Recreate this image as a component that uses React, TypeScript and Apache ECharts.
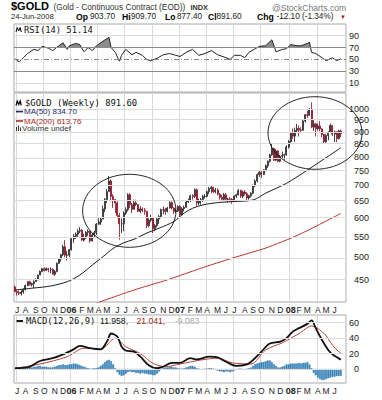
import React, { useEffect, useRef } from "react";
import * as echarts from "echarts";

// ---------- data ----------
const firstWeek = "2005-06-27"; // Monday of first weekly bar
const weekSlots = 159; // 157 bars + 2 empty slots of right padding

const opens = [
  435, 426, 424, 422, 425, 430, 438, 446, 440, 442, 446, 450, 460, 468, 474, 470, 474, 472, 472, 462, 468, 486, 496, 506, 525, 505, 505,
  518, 545, 552, 557, 565, 567, 542, 548, 562, 565, 540, 555, 561, 584, 590, 598, 627, 655, 680, 715, 665, 655, 645, 608, 585, 585, 615,
  625, 670, 640, 626, 645, 640, 620, 627, 623, 620, 580, 595, 600, 572, 580, 598, 605, 625, 625, 620, 630, 646, 630, 620, 621,
  635, 610, 628, 632, 648, 652, 667, 665, 686, 645, 652, 655, 665, 665, 680, 690, 694, 680, 685, 672, 662, 656, 670, 656, 657, 656,
  650, 666, 670, 684, 666, 679, 673, 660, 667, 675, 699, 715, 736, 745, 737, 753, 768, 784, 808, 832, 788, 823, 784, 803, 805, 808,
  838, 860, 895, 882, 906, 914, 908, 906, 947, 975, 972, 1001, 920, 934, 913, 925, 912, 889, 859, 884, 898, 927, 890, 900, 872, 903.7,
];
const closes = [
  426, 424, 422, 425, 430, 438, 446, 440, 442, 446, 450, 460, 468, 474, 470, 474, 472, 472, 462, 468, 486, 496, 506, 525, 505, 505, 518,
  545, 552, 557, 565, 567, 542, 548, 562, 565, 540, 555, 561, 584, 590, 598, 627, 655, 680, 715, 665, 655, 645, 608, 585, 585, 615, 625,
  670, 640, 626, 645, 640, 620, 627, 623, 620, 580, 595, 600, 572, 580, 598, 605, 625, 625, 620, 630, 646, 630, 620, 621, 635,
  610, 628, 632, 648, 652, 667, 665, 686, 645, 652, 655, 665, 665, 680, 690, 694, 680, 685, 672, 662, 656, 670, 656, 657, 656, 650,
  666, 670, 684, 666, 679, 673, 660, 667, 675, 699, 715, 736, 745, 737, 753, 768, 784, 808, 832, 788, 823, 784, 803, 805, 808, 838,
  860, 895, 882, 906, 914, 908, 906, 947, 975, 972, 1001, 920, 934, 913, 925, 912, 889, 859, 884, 898, 927, 890, 900, 872, 903.7, 891.6,
];
const lows = [
  424, 418, 419, 418, 422, 428, 437, 438, 436, 433, 446, 449, 460, 466, 468, 469, 466, 464, 461, 458, 466, 485, 490, 503, 500, 493, 500,
  516, 535, 545, 550, 560, 540, 538, 545, 553, 535, 538, 550, 555, 582, 582, 598, 618, 645, 680, 650, 630, 615, 600, 543, 560, 565, 610,
  620, 630, 615, 625, 635, 618, 615, 618, 610, 573, 575, 590, 560, 565, 575, 585, 600, 612, 610, 617, 628, 625, 612, 615, 618,
  604, 608, 620, 630, 645, 648, 655, 660, 635, 638, 640, 648, 658, 662, 672, 675, 675, 675, 668, 655, 652, 652, 650, 646, 648, 642,
  648, 660, 668, 660, 660, 668, 650, 655, 662, 672, 695, 710, 728, 725, 735, 748, 760, 780, 805, 785, 785, 780, 780, 792, 788, 805,
  832, 855, 870, 858, 898, 880, 895, 905, 940, 960, 970, 915, 905, 880, 905, 902, 878, 850, 855, 865, 895, 882, 858, 858, 868, 877.4,
];
const highs = [
  438, 428, 428, 428, 432, 440, 447, 448, 444, 449, 453, 461, 470, 476, 477, 477, 476, 477, 475, 471, 488, 498, 508, 530, 542, 515, 520,
  548, 558, 562, 570, 576, 571, 558, 565, 570, 566, 560, 566, 587, 600, 601, 637, 660, 688, 732, 720, 672, 657, 650, 615, 600, 620, 632,
  675, 676, 645, 655, 655, 640, 635, 632, 630, 620, 600, 610, 602, 585, 602, 610, 628, 634, 630, 633, 650, 650, 632, 628, 637,
  638, 632, 637, 652, 658, 670, 672, 690, 690, 658, 660, 670, 672, 683, 695, 698, 695, 692, 690, 675, 670, 676, 676, 660, 663, 660,
  668, 673, 688, 686, 683, 685, 678, 670, 678, 703, 720, 740, 748, 748, 755, 772, 787, 812, 850, 835, 830, 825, 808, 820, 812, 845,
  866, 897, 914, 918, 934, 928, 920, 950, 978, 994, 1005, 1033, 950, 938, 935, 946, 915, 892, 890, 902, 935, 928, 905, 902, 909, 909.7,
];

// moving averages: [week index, value]
const ma50 = [
  [0, 429], [9, 433], [17, 437], [25, 446], [31, 460], [37, 482], [42, 501], [47, 521], [52, 535], [57, 544], [63, 560],
  [69, 573], [76, 591], [81, 615], [85, 629], [90, 639], [97, 646], [104, 649], [114, 654], [120, 675], [130, 707],
  [140, 752], [146, 782], [156, 834.7],
];
const ma200 = [
  [38, 402], [57, 429], [73, 450], [89, 475], [104, 498], [120, 522], [136, 556], [156, 613.76],
];

// RSI(14): [week index, value]
const rsi = [
  [0, 51], [2, 46], [4, 53], [6, 60], [9, 67], [11, 65], [13, 72], [16, 69], [18, 65], [21, 73], [23, 78], [25, 67],
  [26, 73], [29, 77], [31, 75], [33, 63], [35, 70], [37, 65], [39, 73], [41, 78], [44, 85], [45, 87], [46, 70], [48, 62],
  [50, 47], [51, 57], [53, 67], [56, 58], [58, 62], [61, 57], [63, 50], [65, 48], [68, 52], [71, 58], [74, 60], [77, 57],
  [79, 55], [82, 62], [85, 67], [88, 57], [91, 60], [94, 65], [97, 58], [101, 53], [103, 50], [105, 57], [108, 57],
  [110, 53], [112, 62], [115, 68], [117, 72], [120, 73], [123, 83], [125, 63], [128, 67], [130, 68], [132, 75], [135, 73],
  [137, 73], [140, 77], [141, 79], [142, 62], [144, 60], [147, 53], [149, 48], [152, 53], [154, 48], [156, 51.14],
];

// MACD(12,26,9): [week index, value]
const macdLine = [
  [0, 1], [6, 2], [12, 10.4], [18, 14], [23, 19], [28, 25.5], [31, 30], [36, 27], [41, 25.5], [44, 35.5], [46, 46],
  [49, 42], [51, 29], [53, 24], [57, 22.5], [60, 16], [64, 5], [68, 1], [71, 3], [75, 8], [79, 8], [84, 14], [87, 12.5],
  [93, 16], [97, 15], [101, 9.5], [106, 4], [111, 6], [114, 11.7], [118, 22.5], [122, 33], [127, 35.5], [130, 40],
  [133, 48.5], [136, 53], [140, 58.5], [142, 63], [144, 53], [147, 37.6], [150, 24.6], [152, 19], [155, 13.8], [156, 11.958],
];
const signalLine = [
  [0, 1], [12, 6.5], [25, 16], [33, 27], [41, 25.5], [48, 40], [53, 29], [60, 20], [66, 7.4], [72, 3], [79, 6.5],
  [89, 11.7], [97, 14], [104, 8], [113, 6.5], [120, 24.7], [128, 34], [136, 46], [142, 55.7], [148, 46], [152, 31],
  [155, 22.5], [156, 21.041],
];
const macdHist = [
  0, 0, 0, 0, 1, 1, 1, 2, 2,
  3, 3, 4, 4, 3, 3, 3, 2,
  2, 2, 3, 4, 5, 5, 6, 5,
  5, 6, 6, 7, 7, 6, 5, 4,
  3, 2, 1, 0, 0, 1, 1, 2,
  4, 6, 9, 11, 12, 10, 6, 1,
  -4, -7, -9, -8, -6, -4, -3, -4,
  -4, -5, -5, -6, -5, -6, -6, -7,
  -7, -8, -8, -6, -3, -1, 1, 2,
  2, 3, 3, 2, 2, 1, 0, 0,
  1, 2, 3, 4, 4, 3, 1, 0,
  -1, -1, 0, 0, 1, 1, 0, -1,
  -2, -3, -3, -4, -3, -3, -4, -3,
  -2, -1, 0, 0, -1, -1, 0, 1,
  2, 4, 6, 7, 8, 9, 9, 10,
  11, 11, 9, 6, 4, 2, 2, 3,
  4, 6, 6, 7, 7, 7, 7, 8,
  7, 8, 8, 9, 6, 1, -5, -8,
  -11, -13, -14, -14, -13, -12, -11, -10,
  -10, -9, -9, -9.083,
];

const priceTicks = [450, 500, 550, 600, 650, 700, 750, 800, 850, 900, 950, 1000];
const rsiTicks = [10, 30, 50, 70, 90];
const macdTicks = [0, 20, 40, 60];

// ---------- helpers ----------
const FF = '"Liberation Sans", Arial, sans-serif';
const MONO = '"DejaVu Sans Mono", monospace';
const ln = Math.log;

const cats: string[] = [];
{
  const d0 = new Date(firstWeek + "T00:00:00Z").getTime();
  for (let i = 0; i < weekSlots; i++) cats.push(new Date(d0 + i * 7 * 86400000).toISOString().slice(0, 10));
}
const monthOf = (s: string) => Number(s.slice(5, 7));
const isMonthStart = (i: number) => i > 0 && i < closes.length && monthOf(cats[i]) !== monthOf(cats[i - 1]);
const isQuarterStart = (i: number) => isMonthStart(i) && (monthOf(cats[i]) - 1) % 3 === 0;
const monthLabel = (v: string) => {
  const m = monthOf(v);
  return m === 1 ? `{y|${v.slice(2, 4)}}` : "JFMAMJJASOND"[m - 1];
};

function clipAbove(points: number[][], level: number) {
  const out: number[][] = [];
  for (let i = 0; i < points.length; i++) {
    const [x, v] = points[i];
    if (i > 0) {
      const [px, pv] = points[i - 1];
      if ((pv - level) * (v - level) < 0) {
        const t = (level - pv) / (v - pv);
        out.push([px + t * (x - px), level]);
      }
    }
    out.push([x, Math.max(v, level)]);
  }
  return out;
}

function txt(text: string, x: number, y: number, size: number, o: any = {}) {
  return {
    type: "text", x, y, silent: true, z: 100,
    style: {
      text, fontSize: size, fontFamily: o.family || FF, fontWeight: o.bold ? "bold" : "normal",
      fill: o.color || "#000", verticalAlign: "middle", align: o.align || "left",
    },
  };
}

const GRID_L = 14, GRID_W = 332;

export default function App() {
  const ref = useRef<HTMLDivElement>(null);
  useEffect(() => {
    document.body.style.margin = "0";
    const chart = echarts.init(ref.current!, undefined, { renderer: "svg" });

    const catAxis = (gi: number, labels: boolean) => ({
      type: "category", gridIndex: gi, data: cats, boundaryGap: true,
      axisLine: { show: false }, axisTick: { show: false },
      splitLine: { show: true, interval: (i: number) => isQuarterStart(i), lineStyle: { color: "#d9d9d9", width: 1 } },
      axisLabel: labels
        ? {
            show: true, interval: (i: number) => isMonthStart(i), formatter: monthLabel,
            fontSize: 8.5, fontFamily: FF, color: "#222", margin: 3,
            rich: { y: { fontWeight: "bold", fontSize: 9, fontFamily: FF, color: "#222" } },
          }
        : { show: false },
    });
    const valAxis = (gi: number) => ({
      type: "value", gridIndex: gi, min: -0.5, max: weekSlots - 0.5, show: false,
    });
    const yAxis = (gi: number, min: number, max: number, ticks: number[], margin: number, fmt?: any) => ({
      type: "value", gridIndex: gi, position: "right", min, max, scale: true,
      axisLine: { show: false }, axisTick: { show: false }, splitLine: { show: false },
      axisLabel: {
        customValues: ticks, formatter: fmt, fontSize: 9, fontFamily: FF, color: "#222",
        margin, align: "right",
      },
    });
    const gridLines = (xi: number, yi: number, vals: any[]) => ({
      type: "line", xAxisIndex: xi, yAxisIndex: yi, data: [], z: 0, silent: true,
      markLine: { silent: true, symbol: ["none", "none"], label: { show: false }, animation: false, data: vals },
    });
    const light = { color: "#dcdcdc", width: 1, type: "solid" };

    const candles = closes.map((c, i) => [ln(opens[i]), ln(c), ln(lows[i]), ln(highs[i])]);

    const graphic: any[] = [
      txt("$GOLD", 11, 6.2, 11, { bold: true }),
      txt("(Gold - Continuous Contract (EOD))", 53.5, 7, 8.3, { color: "#333" }),
      txt("INDX", 190.5, 7, 7.3, { bold: true, color: "#333" }),
      txt("@StockCharts.com", 272, 7.5, 8.6, { color: "#777" }),
      txt("24-Jun-2008", 11, 16.8, 7.6, { color: "#222" }),
      txt("Op", 76, 16.8, 8.6, { bold: true }),
      txt("903.70", 90, 16.8, 8.2, { color: "#222" }),
      txt("Hi", 122, 16.8, 8.6, { bold: true }),
      txt("909.70", 131, 16.8, 8.2, { color: "#222" }),
      txt("Lo", 165, 16.8, 8.6, { bold: true }),
      txt("877.40", 177, 16.8, 8.2, { color: "#222" }),
      txt("Cl", 208, 16.8, 8.6, { bold: true }),
      txt("891.60", 216.5, 16.8, 8.2, { color: "#222" }),
      txt("Chg", 257, 16.8, 8.6, { bold: true }),
      txt("-12.10 (-1.34%)", 276.5, 16.8, 8.2, { color: "#222" }),
      txt("▼", 340, 17, 6, { color: "#b0102a" }),
      // RSI legend
      { type: "polyline", silent: true, z: 100, shape: { points: [[16, 32], [17.3, 27.5], [18.7, 31], [20.2, 27.5], [21.3, 32]] }, style: { stroke: "#000", lineWidth: 1, fill: "none" } },
      txt("RSI(14) 51.14", 24, 29.8, 8.8, { family: MONO, color: "#111" }),
      // price legend
      { type: "polyline", silent: true, z: 100, shape: { points: [[16, 105.5], [17.3, 101], [18.7, 104.5], [20.2, 101], [21.3, 105.5]] }, style: { stroke: "#000", lineWidth: 1.2, fill: "none" } },
      txt("$GOLD (Weekly) 891.60", 25, 103, 8.9, { family: MONO, color: "#111" }),
      { type: "line", silent: true, z: 100, shape: { x1: 16, y1: 111.6, x2: 23, y2: 111.6 }, style: { stroke: "#1b2a66", lineWidth: 1.6 } },
      txt("MA(50) 834.70", 24, 111.6, 8, { color: "#1b2a66" }),
      { type: "line", silent: true, z: 100, shape: { x1: 16, y1: 121, x2: 23, y2: 121 }, style: { stroke: "#b02a2a", lineWidth: 1.6 } },
      txt("MA(200) 613.76", 24, 121, 8, { color: "#b02a2a" }),
      { type: "rect", silent: true, z: 100, shape: { x: 16, y: 127, width: 1, height: 4 }, style: { fill: "#333" } },
      { type: "rect", silent: true, z: 100, shape: { x: 18, y: 125.5, width: 1, height: 5.5 }, style: { fill: "#333" } },
      { type: "rect", silent: true, z: 100, shape: { x: 20, y: 127.5, width: 1, height: 3.5 }, style: { fill: "#333" } },
      txt("Volume undef", 22, 128.8, 8, { color: "#333" }),
      // MACD legend
      { type: "line", silent: true, z: 100, shape: { x1: 16.5, y1: 321, x2: 23, y2: 321 }, style: { stroke: "#000", lineWidth: 1.8 } },
      txt("MACD(12,26,9)", 26, 321, 8.9, { family: MONO, color: "#111" }),
      txt("11.958,", 100, 321, 8.6, { color: "#111" }),
      txt("21.041,", 136.5, 321, 8.6, { color: "#9a2a20" }),
      txt("-9.083", 175, 321, 8.6, { color: "#aaa" }),
      // annotation ellipses
      { type: "ellipse", silent: true, z: 90, shape: { cx: 129.3, cy: 210.8, rx: 46.7, ry: 36.5 }, style: { fill: "none", stroke: "#111", lineWidth: 0.9 } },
      { type: "ellipse", silent: true, z: 90, shape: { cx: 315, cy: 133, rx: 47, ry: 36.3 }, style: { fill: "none", stroke: "#111", lineWidth: 0.9 } },
    ];

    const option: any = {
      animation: false,
      backgroundColor: "#fff",
      grid: [
        { left: GRID_L, width: GRID_W, top: 24, height: 68, show: true, borderColor: "#a8a8a8", borderWidth: 1, backgroundColor: "transparent" },
        { left: GRID_L, width: GRID_W, top: 93, height: 209, show: true, borderColor: "#a8a8a8", borderWidth: 1, backgroundColor: "transparent" },
        { left: GRID_L, width: GRID_W, top: 315, height: 68, show: true, borderColor: "#a8a8a8", borderWidth: 1, backgroundColor: "transparent" },
      ],
      xAxis: [catAxis(0, false), catAxis(1, true), catAxis(2, true), valAxis(0), valAxis(1), valAxis(2)],
      yAxis: [
        yAxis(0, -4.5, 109.5, rsiTicks, 13),
        yAxis(1, 6.0052, 6.9841, priceTicks.map(ln), 23, (v: number) => String(Math.round(Math.exp(v)))),
        yAxis(2, -18.1, 70, macdTicks, 13),
      ],
      graphic,
      series: [
        gridLines(3, 0, [
          { yAxis: 90, lineStyle: light },
          { yAxis: 10, lineStyle: light },
          { yAxis: 70, lineStyle: { color: "#8a8a8a", width: 1, type: "solid" } },
          { yAxis: 30, lineStyle: { color: "#8a8a8a", width: 1, type: "solid" } },
          { yAxis: 50, lineStyle: { color: "#8a8a8a", width: 1, type: [5, 2, 1, 2] } },
        ]),
        {
          type: "line", xAxisIndex: 3, yAxisIndex: 0, data: clipAbove(rsi, 70), symbol: "none", silent: true,
          lineStyle: { width: 0 }, areaStyle: { color: "#8c8c8c", opacity: 1, origin: 70 }, z: 2,
        },
        { type: "line", xAxisIndex: 3, yAxisIndex: 0, data: rsi, symbol: "none", silent: true, lineStyle: { color: "#222", width: 1 }, z: 3 },

        gridLines(4, 1, priceTicks.map((v) => ({ yAxis: ln(v), lineStyle: light }))),
        {
          type: "candlestick", xAxisIndex: 1, yAxisIndex: 1, data: candles, barWidth: "72%", silent: true, z: 3,
          itemStyle: { color: "#ffffff", color0: "#d8143a", borderColor: "#111", borderColor0: "#8a0a1e", borderWidth: 0.8 },
        },
        {
          type: "line", xAxisIndex: 4, yAxisIndex: 1, data: ma50.map(([x, v]) => [x, ln(v)]), symbol: "none", smooth: 0.3,
          silent: true, lineStyle: { color: "#1a1a1a", width: 1 }, z: 4,
        },
        {
          type: "line", xAxisIndex: 4, yAxisIndex: 1, data: ma200.map(([x, v]) => [x, ln(v)]), symbol: "none", smooth: 0.2,
          silent: true, lineStyle: { color: "#b8342c", width: 1 }, z: 4,
        },

        gridLines(5, 2, macdTicks.map((v) => ({ yAxis: v, lineStyle: light }))),
        {
          type: "bar", xAxisIndex: 2, yAxisIndex: 2, data: macdHist, barCategoryGap: "15%", silent: true, z: 2,
          itemStyle: { color: "#3d94d0", borderColor: "#1d5f95", borderWidth: 0.4 },
        },
        {
          type: "line", xAxisIndex: 5, yAxisIndex: 2, data: signalLine, symbol: "none", smooth: 0.3, silent: true,
          lineStyle: { color: "#b8443a", width: 1 }, z: 3,
        },
        {
          type: "line", xAxisIndex: 5, yAxisIndex: 2, data: macdLine, symbol: "none", smooth: 0.3, silent: true,
          lineStyle: { color: "#111", width: 1.8 }, z: 4,
        },
      ],
    };
    chart.setOption(option);
    return () => chart.dispose();
  }, []);
  return <div ref={ref} style={{ width: 382, height: 400 }} />;
}
